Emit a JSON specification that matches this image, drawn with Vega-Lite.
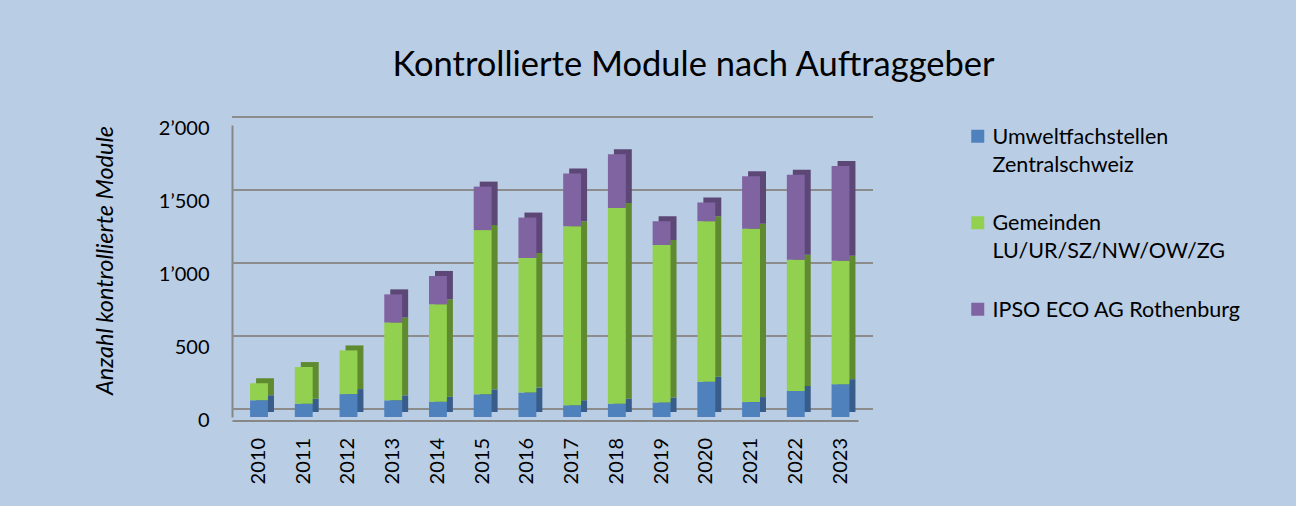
{
  "$schema": "https://vega.github.io/schema/vega-lite/v6.json",
  "width": 626,
  "height": 292,
  "autosize": {"type": "none"},
  "padding": {"left": 232, "top": 125, "right": 438, "bottom": 89},
  "background": "#B9CDE5",
  "config": {
    "view": {"stroke": null},
    "font": "Lato",
    "style": {"guide-label": {"lineHeight": 28, "dy": 7.5}}
  },
  "title": {
    "text": "Kontrollierte Module nach Auftraggeber",
    "font": "Lato",
    "fontSize": 34.5,
    "fontWeight": "normal",
    "color": "#000000",
    "anchor": "middle",
    "dx": 148.5,
    "offset": 32.5
  },
  "datasets": {
    "modules": [
      {"year": "2010", "series": "Umweltfachstellen Zentralschweiz", "k": 1, "value": 114},
      {"year": "2010", "series": "Gemeinden LU/UR/SZ/NW/OW/ZG", "k": 2, "value": 118},
      {"year": "2011", "series": "Umweltfachstellen Zentralschweiz", "k": 1, "value": 91},
      {"year": "2011", "series": "Gemeinden LU/UR/SZ/NW/OW/ZG", "k": 2, "value": 251},
      {"year": "2012", "series": "Umweltfachstellen Zentralschweiz", "k": 1, "value": 157},
      {"year": "2012", "series": "Gemeinden LU/UR/SZ/NW/OW/ZG", "k": 2, "value": 299},
      {"year": "2013", "series": "Umweltfachstellen Zentralschweiz", "k": 1, "value": 114},
      {"year": "2013", "series": "Gemeinden LU/UR/SZ/NW/OW/ZG", "k": 2, "value": 533},
      {"year": "2013", "series": "IPSO ECO AG Rothenburg", "k": 3, "value": 193},
      {"year": "2014", "series": "Umweltfachstellen Zentralschweiz", "k": 1, "value": 105},
      {"year": "2014", "series": "Gemeinden LU/UR/SZ/NW/OW/ZG", "k": 2, "value": 667},
      {"year": "2014", "series": "IPSO ECO AG Rothenburg", "k": 3, "value": 194},
      {"year": "2015", "series": "Umweltfachstellen Zentralschweiz", "k": 1, "value": 155},
      {"year": "2015", "series": "Gemeinden LU/UR/SZ/NW/OW/ZG", "k": 2, "value": 1125},
      {"year": "2015", "series": "IPSO ECO AG Rothenburg", "k": 3, "value": 298},
      {"year": "2016", "series": "Umweltfachstellen Zentralschweiz", "k": 1, "value": 167},
      {"year": "2016", "series": "Gemeinden LU/UR/SZ/NW/OW/ZG", "k": 2, "value": 922},
      {"year": "2016", "series": "IPSO ECO AG Rothenburg", "k": 3, "value": 277},
      {"year": "2017", "series": "Umweltfachstellen Zentralschweiz", "k": 1, "value": 80},
      {"year": "2017", "series": "Gemeinden LU/UR/SZ/NW/OW/ZG", "k": 2, "value": 1227},
      {"year": "2017", "series": "IPSO ECO AG Rothenburg", "k": 3, "value": 360},
      {"year": "2018", "series": "Umweltfachstellen Zentralschweiz", "k": 1, "value": 91},
      {"year": "2018", "series": "Gemeinden LU/UR/SZ/NW/OW/ZG", "k": 2, "value": 1341},
      {"year": "2018", "series": "IPSO ECO AG Rothenburg", "k": 3, "value": 367},
      {"year": "2019", "series": "Umweltfachstellen Zentralschweiz", "k": 1, "value": 100},
      {"year": "2019", "series": "Gemeinden LU/UR/SZ/NW/OW/ZG", "k": 2, "value": 1078},
      {"year": "2019", "series": "IPSO ECO AG Rothenburg", "k": 3, "value": 163},
      {"year": "2020", "series": "Umweltfachstellen Zentralschweiz", "k": 1, "value": 242},
      {"year": "2020", "series": "Gemeinden LU/UR/SZ/NW/OW/ZG", "k": 2, "value": 1099},
      {"year": "2020", "series": "IPSO ECO AG Rothenburg", "k": 3, "value": 128},
      {"year": "2021", "series": "Umweltfachstellen Zentralschweiz", "k": 1, "value": 102},
      {"year": "2021", "series": "Gemeinden LU/UR/SZ/NW/OW/ZG", "k": 2, "value": 1187},
      {"year": "2021", "series": "IPSO ECO AG Rothenburg", "k": 3, "value": 360},
      {"year": "2022", "series": "Umweltfachstellen Zentralschweiz", "k": 1, "value": 178},
      {"year": "2022", "series": "Gemeinden LU/UR/SZ/NW/OW/ZG", "k": 2, "value": 899},
      {"year": "2022", "series": "IPSO ECO AG Rothenburg", "k": 3, "value": 583},
      {"year": "2023", "series": "Umweltfachstellen Zentralschweiz", "k": 1, "value": 225},
      {"year": "2023", "series": "Gemeinden LU/UR/SZ/NW/OW/ZG", "k": 2, "value": 845},
      {"year": "2023", "series": "IPSO ECO AG Rothenburg", "k": 3, "value": 649}
    ],
    "grid": [
      {"value": 0}, {"value": 500}, {"value": 1000}, {"value": 1500}, {"value": 2000}
    ]
  },
  "encoding": {
    "y": {
      "field": "value",
      "type": "quantitative",
      "scale": {"domain": [0, 2000], "nice": false},
      "axis": {
        "title": "Anzahl kontrollierte Module",
        "titleFont": "Lato",
        "titleFontStyle": "italic",
        "titleFontWeight": "normal",
        "titleFontSize": 23.5,
        "titleColor": "#000000",
        "titleX": -127,
        "titleY": 135,
        "titleAlign": "center",
        "titleBaseline": "middle",
        "titleAngle": -90,
        "values": [0, 500, 1000, 1500, 2000],
        "labelExpr": "replace(format(datum.value, ','), ',', '’')",
        "labelFontSize": 20,
        "labelColor": "#000000",
        "labelPadding": 23,
        "labelOffset": -4,
        "ticks": false,
        "grid": false,
        "domainColor": "#878787",
        "domainWidth": 2
      }
    }
  },
  "layer": [
    {
      "data": {"name": "grid"},
      "mark": {"type": "rule", "color": "#8C8C8C", "strokeWidth": 2, "xOffset": 15, "yOffset": -8}
    },
    {
      "data": {"name": "modules"},
      "mark": {"type": "bar", "xOffset": 6, "yOffset": -5, "y2Offset": -5},
      "encoding": {
        "x": {
          "field": "year",
          "type": "ordinal",
          "scale": {"paddingInner": 0.6, "paddingOuter": 0.2975, "align": 0.679},
          "axis": {
            "title": null,
            "labelAngle": -90,
            "labelFontSize": 20,
            "labelColor": "#000000",
            "labelOffset": -7.5,
            "ticks": false,
            "domainColor": "#878787",
            "domainWidth": 2,
            "offset": 3.5,
            "labelPadding": 17
          }
        },
        "y": {"field": "value", "type": "quantitative", "stack": "zero"},
        "order": {"field": "k", "type": "quantitative"},
        "color": {
          "field": "series",
          "type": "nominal",
          "scale": {
            "domain": ["Umweltfachstellen Zentralschweiz", "Gemeinden LU/UR/SZ/NW/OW/ZG", "IPSO ECO AG Rothenburg"],
            "range": ["#385D8A", "#5F8A2F", "#5C4776"]
          },
          "legend": null
        }
      }
    },
    {
      "data": {"name": "modules"},
      "mark": {"type": "bar"},
      "encoding": {
        "x": {"field": "year", "type": "ordinal"},
        "y": {"field": "value", "type": "quantitative", "stack": "zero"},
        "order": {"field": "k", "type": "quantitative"},
        "color": {
          "field": "series",
          "type": "nominal",
          "scale": {
            "domain": ["Umweltfachstellen Zentralschweiz", "Gemeinden LU/UR/SZ/NW/OW/ZG", "IPSO ECO AG Rothenburg"],
            "range": ["#4F81BD", "#92D050", "#8064A2"]
          },
          "legend": {
            "title": null,
            "orient": "none",
            "legendX": 735,
            "legendY": 0.5,
            "symbolType": "square",
            "symbolSize": 169,
            "symbolStrokeWidth": 0,
            "labelFont": "Lato",
            "labelFontSize": 21.5,
            "labelColor": "#000000",
            "labelLimit": 400,
            "labelOffset": 4,
            "rowPadding": 35.5,
            "labelBaseline": "alphabetic",
            "labelExpr": "datum.label == 'IPSO ECO AG Rothenburg' ? datum.label : split(datum.label, ' ')"
          }
        }
      }
    }
  ],
  "resolve": {"scale": {"color": "independent"}}
}
